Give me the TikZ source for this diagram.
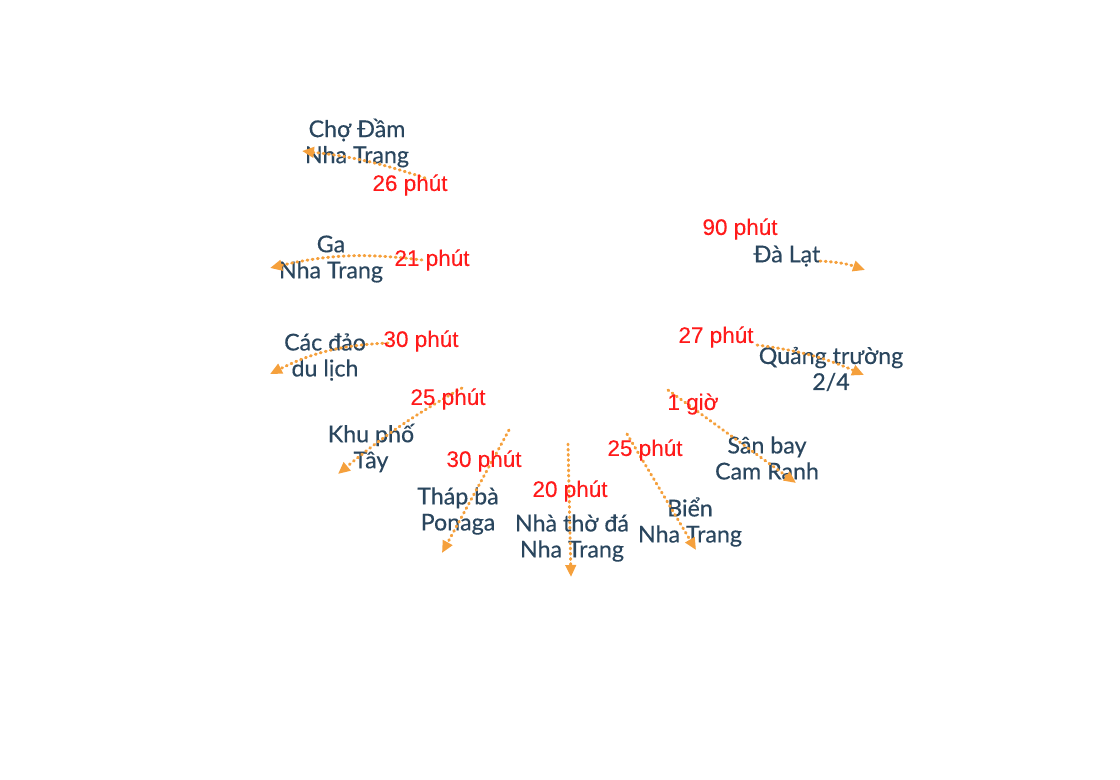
\documentclass[tikz,border=0pt]{standalone}
\usepackage{fontspec}
\setmainfont{Lato}
\newfontfamily\placefont[FakeBold=0.35]{Lato}
\newfontfamily\redfont[FakeBold=0.2]{Liberation Sans}
\usepackage{xcolor}
\usetikzlibrary{arrows.meta}
\definecolor{placeblue}{HTML}{2A465E}
\definecolor{routeorange}{HTML}{F5A03C}
\definecolor{timered}{HTML}{FF1A1A}

\begin{document}
\begin{tikzpicture}[x=0.025cm,y=-0.025cm,
  place/.style={align=center,inner sep=1pt,text=placeblue,font=\placefont\fontsize{16.5}{18.5}\selectfont},
  time/.style={inner sep=1pt,text=timered,font=\redfont\fontsize{16}{18}\selectfont},
  route/.style={draw=routeorange,line width=2.1pt,line cap=round,dash pattern=on 0.7pt off 3pt,
    -{Triangle[length=3mm,width=2.6mm,line cap=butt]}}]
  \useasboundingbox (0,0) rectangle (1120,780);
  % places
  \node[place] (cho)    at (357,143) {Chợ Đầm\\Nha Trang};
  \node[place] (ga)     at (331,259) {Ga\\Nha Trang};
  \node[place] (dao)    at (325,357) {Các đảo\\du lịch};
  \node[place] (khupho) at (371,448) {Khu phố\\Tây};
  \node[place] (thap)   at (458,511) {Tháp bà\\Ponaga};
  \node[place] (nhatho) at (572,538) {Nhà thờ đá\\Nha Trang};
  \node[place] (bien)   at (690,522) {Biển\\Nha Trang};
  \node[place] (sanbay) at (767,458) {Sân bay\\Cam Ranh};
  \node[place] (quang)  at (831,369) {Quảng trường\\2/4};
  \node[place] (dalat)  at (787,256) {Đà Lạt};
  % route ends
  \coordinate (cho-s) at (425,178);    \coordinate (cho-e) at (302,151);
  \coordinate (ga-s) at (422,260);     \coordinate (ga-e) at (270,268);
  \coordinate (dao-s) at (388,343);    \coordinate (dao-e) at (270,374);
  \coordinate (khupho-s) at (462,388); \coordinate (khupho-e) at (338,474);
  \coordinate (thap-s) at (509,430);   \coordinate (thap-e) at (442,553);
  \coordinate (nhatho-s) at (568,444); \coordinate (nhatho-e) at (571,577);
  \coordinate (bien-s) at (627,434);   \coordinate (bien-e) at (696,550);
  \coordinate (sanbay-s) at (668,390); \coordinate (sanbay-e) at (796,483);
  \coordinate (quang-s) at (757,345);  \coordinate (quang-e) at (864,375);
  \coordinate (dalat-s) at (820,261);  \coordinate (dalat-e) at (865,270);
  % routes
  \draw[route] (cho-s) to[bend right=6] (cho-e);
  \draw[route] (ga-s) to[bend right=10] (ga-e);
  \draw[route] (dao-s) to[bend right=12] (dao-e);
  \draw[route] (khupho-s) to[bend right=5] (khupho-e);
  \draw[route] (thap-s) -- (thap-e);
  \draw[route] (nhatho-s) -- (nhatho-e);
  \draw[route] (bien-s) -- (bien-e);
  \draw[route] (sanbay-s) -- (sanbay-e);
  \draw[route] (quang-s) to[bend left=8] (quang-e);
  \draw[route] (dalat-s) to[bend left=8] (dalat-e);
  % times
  \node[time] (t-cho)    at (410,185) {26 phút};
  \node[time] (t-ga)     at (432,260) {21 phút};
  \node[time] (t-dao)    at (421,341) {30 phút};
  \node[time] (t-khupho) at (448,399) {25 phút};
  \node[time] (t-thap)   at (484,461) {30 phút};
  \node[time] (t-nhatho) at (570,491) {20 phút};
  \node[time] (t-bien)   at (645,450) {25 phút};
  \node[time] (t-sanbay) at (693,404) {1 giờ};
  \node[time] (t-quang)  at (716,337) {27 phút};
  \node[time] (t-dalat)  at (740,229) {90 phút};
\end{tikzpicture}
\end{document}
